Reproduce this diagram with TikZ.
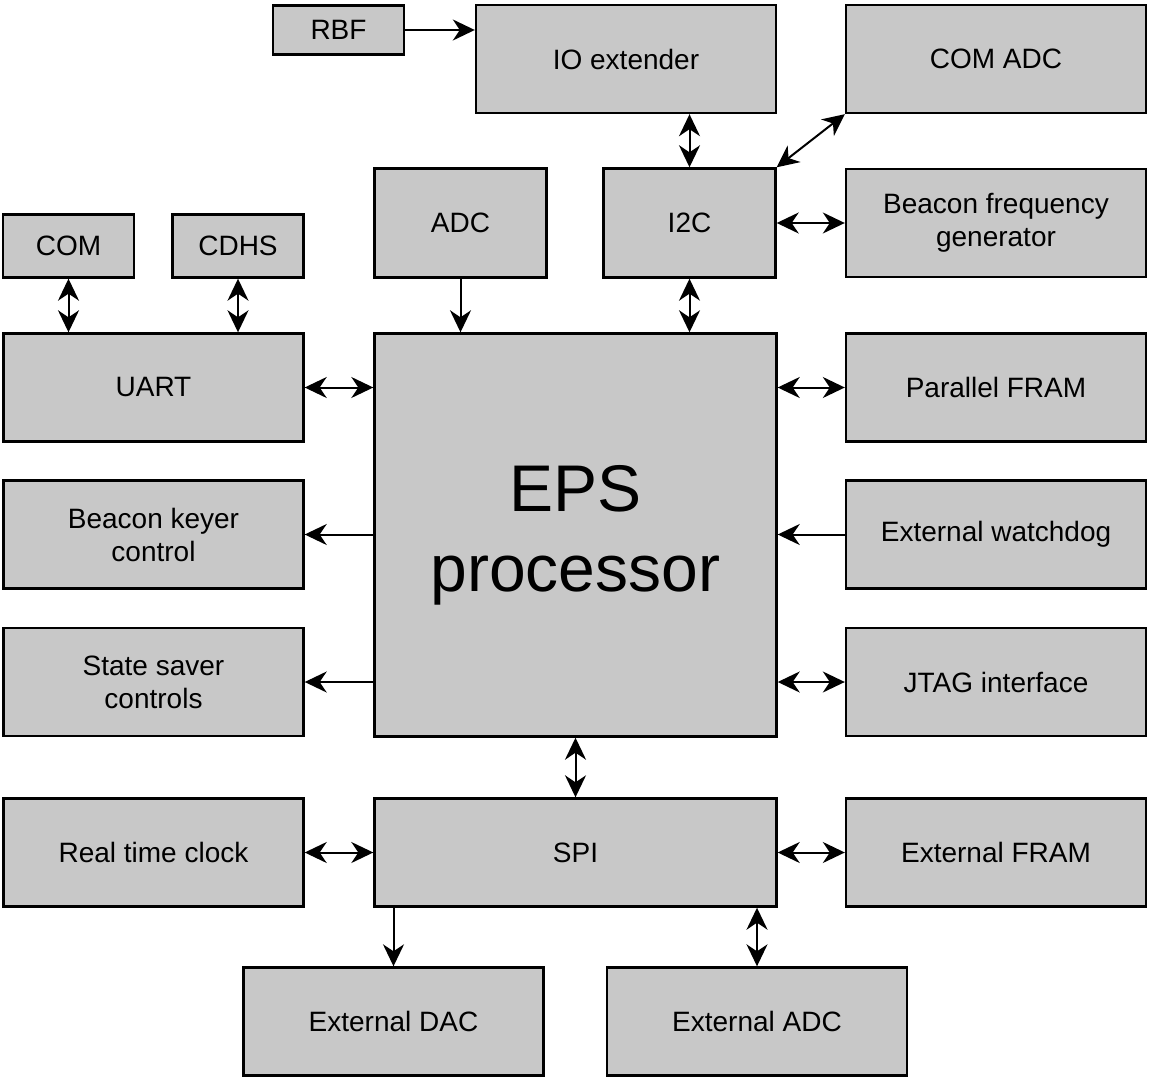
\documentclass[tikz,border=0pt]{standalone}
\usepackage{fontspec}
\setmainfont{Liberation Sans}
\usepackage{tikz}
\usetikzlibrary{calc,positioning}
\usetikzlibrary{shapes,arrows.meta}

\definecolor{boxgray}{RGB}{200,200,200}

\begin{document}
\begin{tikzpicture}[x=0.5pt,y=-0.5pt,inner sep=1pt,
  blk/.style={draw=black, line width=1.2pt, fill=boxgray, align=center,
    font=\fontsize{14}{16.5}\selectfont},
  wide/.style={blk, minimum width=150pt, minimum height=54pt},
  small/.style={blk, minimum width=65.5pt, minimum height=31.5pt},
  mid/.style={blk, minimum width=86pt, minimum height=54.5pt},
  conn/.style={line width=1pt, {Stealth[length=11pt,width=10.5pt,inset=3.5pt]}-{Stealth[length=11pt,width=10.5pt,inset=3.5pt]}},
  one/.style={line width=1pt, -{Stealth[length=11pt,width=10.5pt,inset=3.5pt]}}]

\useasboundingbox (0,0) rectangle (1150,1080);

% top row
\node at (338.5,30) [small, minimum height=24.5pt] (rbf) {RBF};
\node at (626,59) [wide] (ioext) {IO extender};
\node at (996,59) [wide] (comadc) {COM ADC};

\node at (460.5,223) [mid] (adc) {ADC};
\node at (689.5,223) [mid] (itwoc) {I2C};
\node at (996,223) [wide] (beacon) {Beacon frequency\\generator};

\node at (68.5,246) [small] (com) {COM};
\node at (238,246) [small] (cdhs) {CDHS};

% processor and the blocks round it
\node at (575.5,535) [blk, minimum width=201pt, minimum height=201.5pt,
  font=\fontsize{33}{40}\selectfont] (eps) {EPS\\processor};

\node at (153.5,387.5) [wide] (uart) {UART};
\node at (153.5,534.5) [wide] (keyer) {Beacon keyer\\control};
\node at (153.5,682) [wide] (saver) {State saver\\controls};

\node at (996,387.5) [wide] (pfram) {Parallel FRAM};
\node at (996,534.5) [wide] (wdog) {External watchdog};
\node at (996,682) [wide] (jtag) {JTAG interface};

% SPI row
\node at (153.5,852.5) [wide] (rtc) {Real time clock};
\node at (575.5,852.5) [blk, minimum width=201pt, minimum height=54pt] (spi) {SPI};
\node at (996,852.5) [wide] (efram) {External FRAM};

\node at (393.5,1021.5) [wide] (edac) {External DAC};
\node at (757,1021.5) [wide] (eadc) {External ADC};

% connections
\draw [one] (rbf.east) -- (rbf.east -| ioext.west);
\draw [conn] (ioext.south -| itwoc.north) -- (itwoc.north);
\draw [conn] (itwoc.north east) -- (comadc.south west);
\draw [conn] (itwoc.east) -- (beacon.west);
\draw [one] (adc.south) -- (adc.south |- eps.north);
\draw [conn] (itwoc.south) -- (itwoc.south |- eps.north);

\draw [conn] (com.south) -- (com.south |- uart.north);
\draw [conn] (cdhs.south) -- (cdhs.south |- uart.north);
\draw [conn] (uart.east) -- (uart.east -| eps.west);
\draw [one] (keyer.east -| eps.west) -- (keyer.east);
\draw [one] (saver.east -| eps.west) -- (saver.east);

\draw [conn] (pfram.west -| eps.east) -- (pfram.west);
\draw [one] (wdog.west) -- (wdog.west -| eps.east);
\draw [conn] (jtag.west -| eps.east) -- (jtag.west);

\draw [conn] (eps.south) -- (spi.north);
\draw [conn] (rtc.east) -- (spi.west);
\draw [conn] (spi.east) -- (efram.west);
\draw [one] (edac.north |- spi.south) -- (edac.north);
\draw [conn] (eadc.north |- spi.south) -- (eadc.north);

\end{tikzpicture}
\end{document}
